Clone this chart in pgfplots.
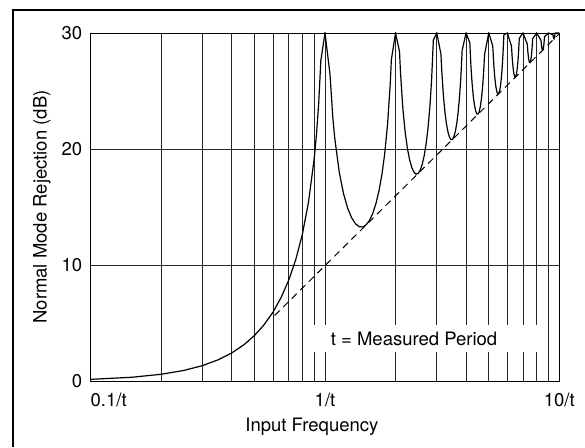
\documentclass[border=0pt]{standalone}
\usepackage{fontspec}
\setmainfont{TeX Gyre Heros}
\usepackage{pgfplots}
\pgfplotsset{compat=1.18}

\newcommand{\chartfont}{\fontsize{18.5}{22}\selectfont}

\begin{document}
\begin{tikzpicture}
\begin{axis}[
  at={(0pt,0pt)}, anchor=south west,
  scale only axis, width=468.6pt, height=348pt,
  xmode=log, log basis x=10,
  xmin=0.1, xmax=10, ymin=0, ymax=30,
  xtick={0.1,1,10},
  xticklabels={\rlap{0.1/t}, 1/t, 10/t\hspace{14pt}},
  minor xtick={0.2,0.3,0.4,0.5,0.6,0.7,0.8,0.9,2,3,4,5,6,7,8,9},
  ytick={0,10,20,30},
  xmajorgrids, xminorgrids, ymajorgrids,
  grid style={black!85, line width=0.9pt},
  minor grid style={black!85, line width=0.9pt},
  major tick length=0pt, minor tick length=0pt,
  axis line style={line width=0.9pt},
  /pgf/number format/assume math mode=true,
  tick label style={font=\chartfont},
  xticklabel style={yshift=-8pt},
  yticklabel style={xshift=-5pt},
  label style={font=\chartfont},
  xlabel={Input Frequency},
  ylabel={Normal Mode Rejection (dB)},
  xlabel style={at={(axis description cs:0.472,-0.1457)}, anchor=base},
  ylabel style={at={(axis description cs:-0.1039,0.5)}, anchor=center},
]
% rejection curve, peaks at 30 dB on each multiple of 1/t
\addplot[black, line width=1.2pt] coordinates {
  (0.1,0.143) (0.15,0.324) (0.2,0.580) (0.25,0.912) (0.3,1.327) (0.35,1.827)
  (0.4,2.420) (0.45,3.115) (0.5,3.922) (0.55,4.858) (0.6,5.942) (0.65,7.204)
  (0.7,8.687) (0.75,10.454) (0.8,12.621) (0.85,15.391) (0.9,19.228) (0.92,21.306)
  (0.94,23.952) (0.96,27.627)
  (1,30)
  (1.05,26.48) (1.08,22.70) (1.1,20.97) (1.15,18.02) (1.2,16.14)
  (1.25,14.89) (1.3,14.06) (1.35,13.55) (1.4,13.30) (1.45,13.28) (1.5,13.47)
  (1.55,13.86) (1.6,14.46) (1.65,15.30) (1.7,16.39) (1.75,17.81) (1.8,19.66)
  (1.85,22.15) (1.9,25.72) (1.92,27.70)
  (2,30)
  (2.08,28.40) (2.1,26.59) (2.15,23.45) (2.2,21.41) (2.25,20.00)
  (2.3,19.02) (2.35,18.37) (2.4,17.98) (2.45,17.83) (2.5,17.90) (2.55,18.18)
  (2.6,18.68) (2.65,19.41) (2.7,20.41) (2.75,21.74) (2.8,23.50) (2.85,25.90)
  (2.9,29.39)
  (3,30)
  (3.125,28.18) (3.15,26.77) (3.2,24.66) (3.25,23.19) (3.3,22.15)
  (3.35,21.45) (3.4,21.01) (3.45,20.81) (3.5,20.82) (3.55,21.06) (3.6,21.51)
  (3.65,22.19) (3.7,23.15) (3.75,24.43) (3.8,26.15) (3.85,28.51)
  (4,30)
  (4.15,29.16) (4.2,27.02) (4.25,25.52) (4.3,24.45) (4.35,23.72)
  (4.4,23.25) (4.45,23.02) (4.5,23.01) (4.55,23.21) (4.6,23.63) (4.65,24.30)
  (4.7,25.23) (4.75,26.49) (4.8,28.18)
  (5,30)
  (5.2,28.88) (5.25,27.36) (5.3,26.27) (5.35,25.51) (5.4,25.03)
  (5.45,24.78) (5.5,24.75) (5.55,24.94) (5.6,25.34) (5.65,25.99) (5.7,26.90)
  (5.75,28.15) (5.8,29.83)
  (6,30)
  (6.25,28.87) (6.3,27.77) (6.35,27.00) (6.4,26.50) (6.45,26.24)
  (6.5,26.20) (6.55,26.38) (6.6,26.77) (6.65,27.40) (6.7,28.31) (6.75,29.54)
  (7,30)
  (7.3,29.05) (7.35,28.27) (7.4,27.76) (7.45,27.49) (7.5,27.44)
  (7.55,27.61) (7.6,27.99) (7.65,28.62) (7.7,29.51)
  (8,30)
  (8.35,29.38) (8.4,28.87) (8.45,28.59) (8.5,28.53) (8.55,28.69)
  (8.6,29.07) (8.65,29.69)
  (9,30)
  (9.4,29.84) (9.45,29.56) (9.5,29.50) (9.55,29.65) (9.5977,30)
  (10,30)
};
% asymptote 20 log(pi f t)
\addplot[black, line width=1pt, dash pattern=on 7pt off 5pt] coordinates {
  (0.61,5.65) (10,29.94)
};
\end{axis}
% label box over the grid
\fill[white] (217.3pt,29pt) rectangle (447.3pt,56pt);
\node[font=\chartfont, anchor=base, inner sep=0pt] at (323.3pt,36pt) {t = Measured Period};
% outer frame
\draw[line width=2.4pt] (-77.7pt,-66pt) -- (-77.7pt,371pt) -- (494.3pt,371pt);
\pgfresetboundingbox
\useasboundingbox (-90.7pt,-66pt) rectangle (494.3pt,381pt);
\end{tikzpicture}
\end{document}
